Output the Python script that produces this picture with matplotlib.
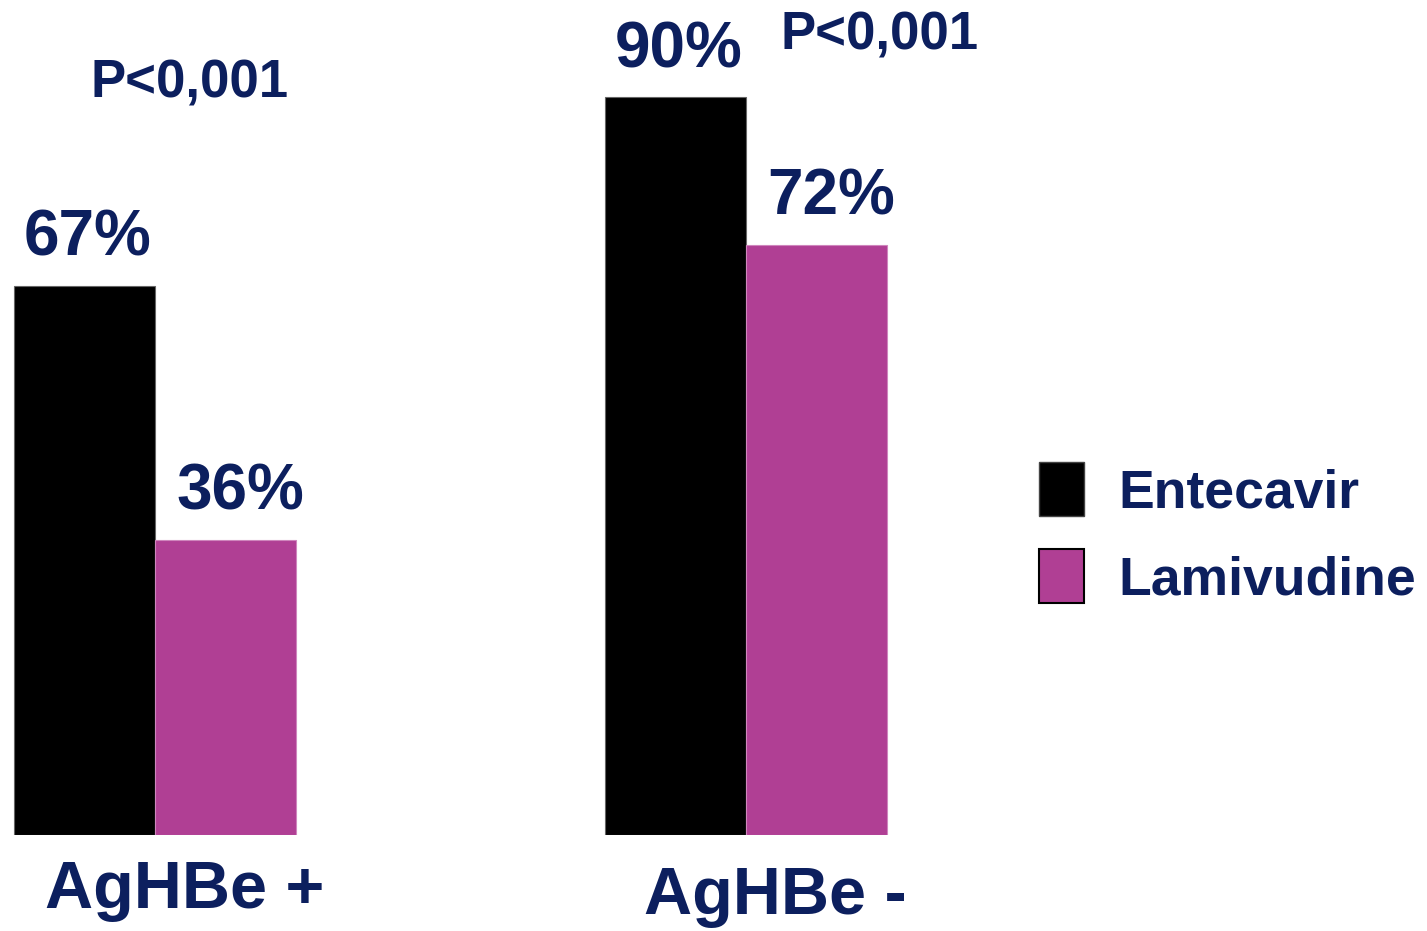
import numpy as np
import matplotlib.pyplot as plt
from matplotlib.patches import Patch
from matplotlib.transforms import blended_transform_factory

plt.rcParams['font.family'] = ['Liberation Sans', 'DejaVu Sans']
plt.rcParams['font.weight'] = 'bold'

NAVY = '#0c1f5e'
MAGENTA = '#b03f94'

groups = ['AgHBe +', 'AgHBe -']
series = ['Entecavir', 'Lamivudine']
entecavir = [67, 90]
lamivudine = [36, 72]
p_values = ['P<0,001', 'P<0,001']

W, H = 1427, 931
fig = plt.figure(figsize=(W / 100, H / 100), dpi=100)

# axes span full width; baseline ~96 px above the bottom
base = 96
ax = fig.add_axes([0, base / H, 1, 1 - base / H])
ax.set_axis_off()

x = np.arange(len(groups))
w = 0.239
ax.set_xlim(-155 / 591, (W - 155) / 591)
ax.set_ylim(0, (H - base) / 8.2)

b1 = ax.bar(x - w / 2, entecavir, w, color='black', edgecolor='#666666', linewidth=0.8)
b2 = ax.bar(x + w / 2, lamivudine, w, color=MAGENTA, edgecolor='#cf86bd', linewidth=0.8)

for bars, vals, dx in [(b1, entecavir, 0.005), (b2, lamivudine, 0.025)]:
    for rect, v in zip(bars, vals):
        ax.annotate(f"{v}%", (rect.get_x() + rect.get_width() / 2 + dx, v),
                    xytext=(0, 30), textcoords='offset pixels',
                    ha='center', va='baseline', fontsize=46, color=NAVY,
                    fontweight='bold')

# group labels under the bars
trans = blended_transform_factory(ax.transData, fig.transFigure)
for i, g in enumerate(groups):
    fig.text(i + 0.05, 1 - (908 + 6 * i) / H, g, transform=trans,
             ha='center', va='baseline', fontsize=48, color=NAVY,
             fontweight='bold')

# p-values
p_pos = [(190, 97), (880, 50)]
for (px, py), p in zip(p_pos, p_values):
    fig.text(px / W, 1 - py / H, p, ha='center', va='baseline',
             fontsize=38, color=NAVY, fontweight='bold')

handles = [Patch(facecolor='black', edgecolor='#444444', linewidth=1),
           Patch(facecolor=MAGENTA, edgecolor='black', linewidth=1.5)]
fs = 38.5
fpx = fs * 100 / 72
leg = fig.legend(handles, series, loc='upper left',
                 bbox_to_anchor=(1039 / W, 1 - 462 / H),
                 frameon=False, labelcolor=NAVY,
                 prop={'weight': 'bold', 'size': fs},
                 handlelength=45 / fpx, handleheight=63 / fpx,
                 handletextpad=0.65, labelspacing=0.58,
                 borderpad=0, borderaxespad=0)

fig.savefig('out.png', dpi=100)
